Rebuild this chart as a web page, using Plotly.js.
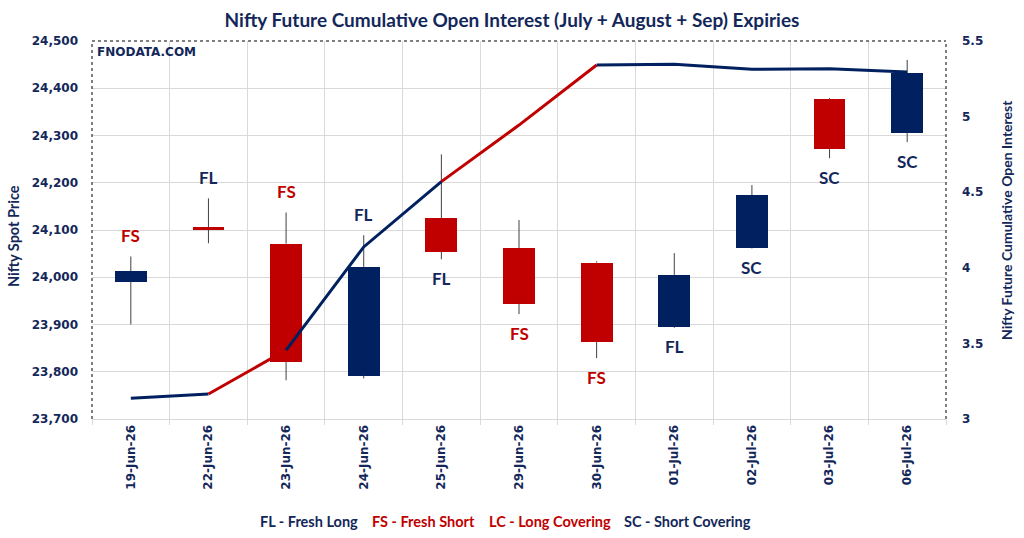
<!DOCTYPE html>
<html>
<head>
<meta charset="utf-8">
<script src="https://cdn.plot.ly/plotly-3.0.1.min.js"></script>
<style>
  html, body { margin: 0; padding: 0; background: #ffffff; }
  #chart { width: 1024px; height: 538px; }
</style>
</head>
<body>
<div id="chart"></div>
<script>
// Trading sessions
const dates = ['19-Jun-26', '22-Jun-26', '23-Jun-26', '24-Jun-26', '25-Jun-26', '29-Jun-26',
               '30-Jun-26', '01-Jul-26', '02-Jul-26', '03-Jul-26', '06-Jul-26'];

// Nifty spot OHLC
const openP  = [23991, 24106, 24071, 23792, 24125, 24062, 24031, 23895, 24061, 24377, 24306];
const highP  = [24044, 24167, 24137, 24089, 24260, 24121, 24034, 24051, 24195, 24379, 24460];
const lowP   = [23900, 24072, 23782, 23786, 24038, 23922, 23829, 23893, 24060, 24252, 24286];
const closeP = [24013, 24100, 23821, 24022, 24054, 23944, 23864, 24005, 24174, 24271, 24432];

// Cumulative open interest of July + August + Sep futures
const cumOI = [3.137, 3.165, 3.456, 4.138, 4.570, 4.944, 5.341, 5.347, 5.313, 5.317, 5.295];

// Daily build-up signal
const signal = ['FS', 'FL', 'FS', 'FL', 'FL', 'FS', 'FS', 'FL', 'SC', 'SC', 'SC'];

// Legend entries
const legendItems = ['FL - Fresh Long', 'FS - Fresh Short', 'LC - Long Covering', 'SC - Short Covering'];

const NAVY = '#002060';
const RED = '#C00000';
const TEXT_NAVY = '#13275A';
const GRID = '#D9D9D9';
const LABEL_FONT = 'Lato, "Open Sans", sans-serif';
const TICK_FONT = '"DejaVu Sans", Verdana, sans-serif';

const signalColor = s => (s === 'FL' || s === 'SC') ? TEXT_NAVY : RED;

// Candle bodies as floating bars
const bodyBase = openP.map((o, i) => Math.min(o, closeP[i]));
const bodyLen = openP.map((o, i) => Math.max(Math.abs(closeP[i] - o), 1));
const bodyColor = openP.map((o, i) => closeP[i] >= o ? NAVY : RED);

const bodies = {
  type: 'bar',
  x: dates,
  y: bodyLen,
  base: bodyBase,
  width: 0.41,
  marker: { color: bodyColor, line: { width: 0 } },
  hoverinfo: 'skip',
  showlegend: false
};

// Wicks split above and below each body
const wx = [], wy = [];
dates.forEach((d, i) => {
  const top = Math.max(openP[i], closeP[i]);
  const bot = Math.min(openP[i], closeP[i]);
  if (highP[i] > top) { wx.push(d, d, d); wy.push(top, highP[i], null); }
  if (lowP[i] < bot) { wx.push(d, d, d); wy.push(lowP[i], bot, null); }
});
const wicks = {
  type: 'scatter', mode: 'lines',
  x: wx, y: wy,
  line: { color: '#404040', width: 1 },
  connectgaps: false,
  hoverinfo: 'skip',
  showlegend: false
};

// OI line, each leg coloured by the signal of the day it ends on
const legColor = s => signalColor(s) === RED ? RED : NAVY;
const oiTraces = [];
let start = 0;
for (let i = 1; i < dates.length; i++) {
  const c = legColor(signal[i]);
  const nextC = i + 1 < dates.length ? legColor(signal[i + 1]) : null;
  if (nextC !== c) {
    oiTraces.push({
      type: 'scatter', mode: 'lines',
      x: dates.slice(start, i + 1),
      y: cumOI.slice(start, i + 1),
      yaxis: 'y2',
      line: { color: c, width: 3 },
      hoverinfo: 'skip',
      showlegend: false
    });
    start = i;
  }
}

const plotL = 92, plotR = 946, plotT = 41, plotB = 419;
const px2x = p => (p - plotL) / (plotR - plotL);
const px2y = p => (plotB - p) / (plotB - plotT);

const annotations = [];

// Signal tags above the first four candles, below the rest
dates.forEach((d, i) => {
  const above = i < 4;
  annotations.push({
    xref: 'x', yref: 'y',
    x: d, y: above ? highP[i] : lowP[i],
    yshift: above ? 21 : -19,
    text: signal[i],
    showarrow: false,
    xanchor: 'center', yanchor: 'middle',
    font: { family: LABEL_FONT, size: 17, color: signalColor(signal[i]), weight: 'bold' }
  });
});

// Watermark
annotations.push({
  xref: 'paper', yref: 'paper', x: px2x(95), y: px2y(52),
  xanchor: 'left', yanchor: 'middle', showarrow: false,
  text: '<b>FNODATA.COM</b>',
  font: { family: TICK_FONT, size: 12, color: TEXT_NAVY }
});

// Axis titles
annotations.push({
  xref: 'paper', yref: 'paper', x: px2x(14), y: px2y(236),
  xanchor: 'center', yanchor: 'middle', showarrow: false, textangle: -90,
  text: '<b>Nifty Spot Price</b>',
  font: { family: LABEL_FONT, size: 14.5, color: TEXT_NAVY }
});
annotations.push({
  xref: 'paper', yref: 'paper', x: px2x(1007), y: px2y(220),
  xanchor: 'center', yanchor: 'middle', showarrow: false, textangle: -90,
  text: '<b>Nifty Future Cumulative Open Interest</b>',
  font: { family: LABEL_FONT, size: 14, color: TEXT_NAVY }
});

// Signal key
const legendX = [258, 370, 487, 622];
legendItems.forEach((t, i) => {
  annotations.push({
    xref: 'paper', yref: 'paper', x: px2x(legendX[i]), y: px2y(521),
    xanchor: 'left', yanchor: 'middle', showarrow: false,
    text: '<b>' + t + '</b>',
    font: { family: LABEL_FONT, size: 14.5, color: signalColor(t.slice(0, 2)) }
  });
});

// Dotted frame on left, top and right
const frame = { type: 'line', xref: 'paper', yref: 'paper', line: { color: '#000000', width: 1, dash: 'dot' } };
const shapes = [
  Object.assign({}, frame, { x0: 0, x1: 0, y0: 0, y1: 1 }),
  Object.assign({}, frame, { x0: 0, x1: 1, y0: 1, y1: 1 }),
  Object.assign({}, frame, { x0: 1, x1: 1, y0: 0, y1: 1 })
];

const layout = {
  width: 1024, height: 538,
  margin: { l: plotL, r: 1024 - plotR, t: plotT, b: 538 - plotB, pad: 0 },
  paper_bgcolor: '#ffffff',
  plot_bgcolor: '#ffffff',
  showlegend: false,
  title: {
    text: '<b>Nifty Future Cumulative Open Interest (July + August + Sep) Expiries</b>',
    x: 0.5, xref: 'container', xanchor: 'center',
    y: 1 - 20 / 538, yref: 'container', yanchor: 'middle',
    font: { family: LABEL_FONT, size: 19, color: TEXT_NAVY }
  },
  xaxis: {
    type: 'category',
    categoryorder: 'array', categoryarray: dates,
    tickson: 'boundaries',
    showgrid: true, gridcolor: GRID, gridwidth: 1,
    showline: true, linecolor: GRID, linewidth: 1,
    ticks: 'outside', ticklen: 5, tickcolor: GRID,
    tickangle: -90,
    tickfont: { family: TICK_FONT, size: 12, color: TEXT_NAVY, weight: 'bold' },
    fixedrange: true
  },
  yaxis: {
    range: [23700, 24500],
    dtick: 100,
    tickformat: ',d',
    showgrid: true, gridcolor: GRID, gridwidth: 1,
    zeroline: false, showline: false,
    ticks: '',
    ticklabelstandoff: 13,
    tickfont: { family: TICK_FONT, size: 12, color: TEXT_NAVY, weight: 'bold' },
    fixedrange: true
  },
  yaxis2: {
    overlaying: 'y', side: 'right',
    range: [3, 5.5],
    dtick: 0.5,
    showgrid: false, zeroline: false, showline: false,
    ticks: '',
    ticklabelstandoff: 15,
    tickfont: { family: TICK_FONT, size: 12, color: TEXT_NAVY, weight: 'bold' },
    fixedrange: true
  },
  bargap: 0,
  annotations: annotations,
  shapes: shapes
};

Plotly.newPlot('chart', [bodies, wicks].concat(oiTraces), layout, { displayModeBar: false, staticPlot: true });
</script>
</body>
</html>
